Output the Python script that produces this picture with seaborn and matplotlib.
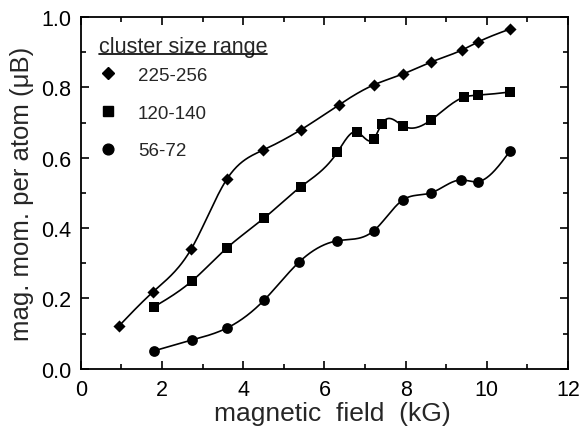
import numpy as np
import pandas as pd
import matplotlib
matplotlib.use("Agg")
import matplotlib.pyplot as plt
from matplotlib.lines import Line2D
from matplotlib.ticker import MultipleLocator
import seaborn as sns

# ---- data ----
labels = ["225-256", "120-140", "56-72"]
x_diamond = [0.94, 1.78, 2.72, 3.60, 4.49, 5.41, 6.35, 7.21, 7.93, 8.62, 9.38, 9.78, 10.57]
y_diamond = [0.122, 0.219, 0.341, 0.540, 0.622, 0.679, 0.750, 0.807, 0.838, 0.872, 0.906, 0.929, 0.966]
x_square = [1.80, 2.74, 3.60, 4.52, 5.41, 6.32, 6.79, 7.21, 7.41, 7.93, 8.62, 9.43, 9.78, 10.57]
y_square = [0.176, 0.250, 0.344, 0.429, 0.517, 0.616, 0.674, 0.653, 0.696, 0.691, 0.707, 0.772, 0.778, 0.787]
x_circle = [1.80, 2.74, 3.60, 4.52, 5.38, 6.32, 7.21, 7.93, 8.62, 9.36, 9.78, 10.57]
y_circle = [0.051, 0.082, 0.116, 0.196, 0.304, 0.364, 0.392, 0.480, 0.500, 0.537, 0.532, 0.619]
x_ticks = [0, 2, 4, 6, 8, 10, 12]
x_ticklabels = ["0", "2", "4", "6", "8", "10", "12"]
y_ticks = [0.0, 0.2, 0.4, 0.6, 0.8, 1.0]
y_ticklabels = ["0.0", "0.2", "0.4", "0.6", "0.8", "1.0"]


def natural_spline(x, y, n=400):
    x = np.asarray(x, float)
    y = np.asarray(y, float)
    m = len(x)
    h = np.diff(x)
    A = np.zeros((m, m))
    b = np.zeros(m)
    A[0, 0] = A[-1, -1] = 1
    for i in range(1, m - 1):
        A[i, i - 1] = h[i - 1]
        A[i, i] = 2 * (h[i - 1] + h[i])
        A[i, i + 1] = h[i]
        b[i] = 6 * ((y[i + 1] - y[i]) / h[i] - (y[i] - y[i - 1]) / h[i - 1])
    M = np.linalg.solve(A, b)
    xs = np.linspace(x[0], x[-1], n)
    idx = np.clip(np.searchsorted(x, xs) - 1, 0, m - 2)
    x0, x1 = x[idx], x[idx + 1]
    hh = x1 - x0
    ys = (M[idx] * (x1 - xs) ** 3 / (6 * hh) + M[idx + 1] * (xs - x0) ** 3 / (6 * hh)
          + (y[idx] / hh - M[idx] * hh / 6) * (x1 - xs)
          + (y[idx + 1] / hh - M[idx + 1] * hh / 6) * (xs - x0))
    return xs, ys


sns.set_style("ticks")
plt.rcParams["font.family"] = ["Liberation Sans", "DejaVu Sans"]

fig = plt.figure(figsize=(5.82, 4.31), dpi=100)
ax = fig.add_axes([0.139, 0.142, 0.837, 0.816])

series = [(x_diamond, y_diamond, "D", 38), (x_square, y_square, "s", 55), (x_circle, y_circle, "o", 60)]
handles = []
for lab, (xs_, ys_, mk, sz) in zip(labels, series):
    cx, cy = natural_spline(xs_, ys_)
    sns.lineplot(x=cx, y=cy, ax=ax, color="black", linewidth=1.2, sort=False, estimator=None)
    sns.scatterplot(x=xs_, y=ys_, ax=ax, marker=mk, s=sz, color="black", edgecolor="black", linewidth=0, zorder=5)
    handles.append(Line2D([], [], linestyle="none", marker=mk, color="black",
                          markersize=np.sqrt(sz), label=lab))

ax.set_xlim(0, 12)
ax.set_ylim(0, 1.0)
ax.set_xticks(x_ticks)
ax.set_xticklabels(x_ticklabels)
ax.set_yticks(y_ticks)
ax.set_yticklabels(y_ticklabels)
ax.xaxis.set_minor_locator(MultipleLocator(1))
ax.yaxis.set_minor_locator(MultipleLocator(0.1))
ax.tick_params(which="both", direction="in", top=True, right=True, width=1.2, colors="black",
               labelsize=15.5)
ax.tick_params(which="major", length=6, pad=7)
ax.tick_params(which="minor", length=3.5)
for s in ax.spines.values():
    s.set_visible(True)
    s.set_linewidth(1.3)
    s.set_color("black")

ax.set_xlabel("magnetic  field  (kG)", fontsize=19, labelpad=1)
ax.xaxis.label.set_x(0.516)
ax.set_ylabel("mag. mom. per atom (\u03bcB)", fontsize=18.5, labelpad=5)

leg = ax.legend(handles=handles, title="cluster size range", loc="upper left",
                bbox_to_anchor=(-0.006, 1.005), frameon=False, fontsize=13.5, title_fontsize=15.5,
                handletextpad=1.1, labelspacing=1.1, borderpad=0.6, handlelength=1.0)
leg._legend_box.align = "left"
leg._legend_box.sep = 7

fig.canvas.draw()
r = fig.canvas.get_renderer()
tb = leg.get_title().get_window_extent(r)
inv = fig.transFigure.inverted()
(x0, y0), (x1, y1) = inv.transform([[tb.x0, tb.y0], [tb.x1, tb.y0]])
fig.add_artist(Line2D([x0, x1], [y0 + 0.006, y1 + 0.006], color="black", linewidth=1.2,
                      transform=fig.transFigure))

fig.savefig("out.png", dpi=100)
